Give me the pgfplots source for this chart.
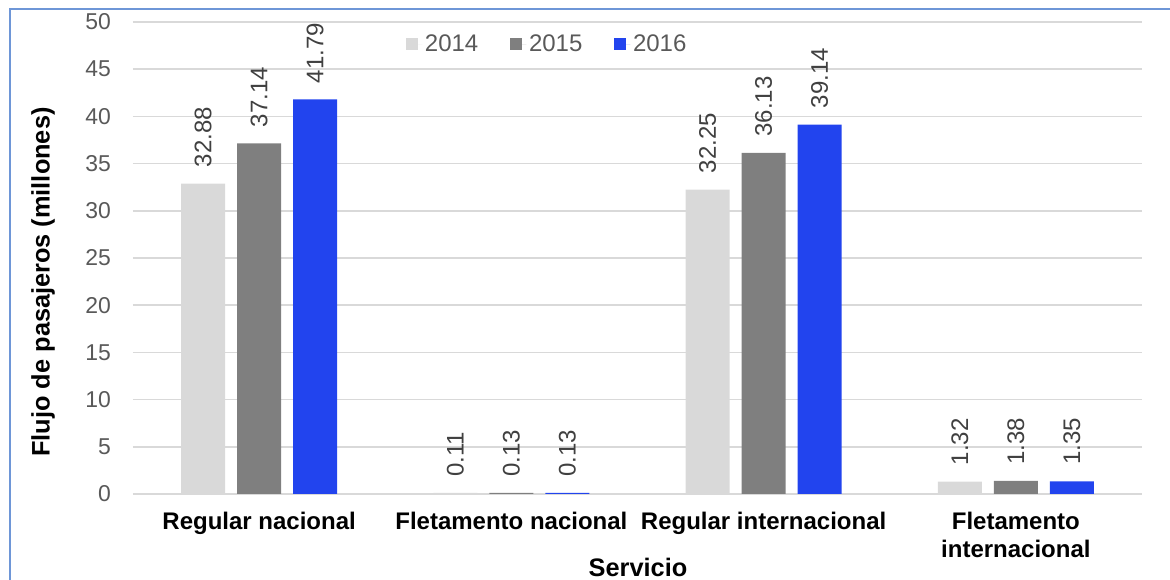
\documentclass[border=0pt]{standalone}
\usepackage{fontspec}
\setmainfont{Liberation Sans}
\usepackage{pgfplots}
\pgfplotsset{compat=1.18}
\definecolor{c14}{RGB}{217,217,217}
\definecolor{c15}{RGB}{127,127,127}
\definecolor{c16}{RGB}{34,68,238}
\definecolor{tickgray}{RGB}{89,89,89}
\definecolor{lblgray}{RGB}{64,64,64}
\definecolor{framebl}{RGB}{110,150,215}
\pgfplotsset{sq/.style={legend image code/.code={\fill[##1] (0pt,-4.5pt) rectangle (9pt,4.5pt); \path (0pt,0pt) -- (12pt,0pt);}}}

\begin{document}
\begin{tikzpicture}
\begin{axis}[
    at={(0pt,0pt)}, anchor=south west,
    scale only axis, width=756.75pt, height=354pt,
    ybar=9pt, bar width=33pt,
    xmin=-0.5, xmax=3.5, ymin=0, ymax=50,
    ytick={0,5,...,50},
    xtick={0,1,2,3},
    xticklabels={Regular nacional, Fletamento nacional, Regular internacional, {Fletamento\\internacional}},
    xticklabel style={font=\fontsize{18}{20.5}\selectfont\bfseries, align=center, text=black, yshift=-6pt},
    yticklabel style={font=\fontsize{17.2}{20}\selectfont, text=tickgray, xshift=-13pt},
    /pgf/number format/assume math mode=true,
    ymajorgrids, grid style={draw=c14, line width=1.2pt},
    axis line style={draw=none},
    major tick style={draw=none},
    nodes near coords,
    every node near coord/.append style={rotate=90, anchor=west, inner xsep=12pt,
        font=\fontsize{18}{20}\selectfont, text=lblgray,
        /pgf/number format/.cd, fixed, fixed zerofill, precision=2, assume math mode=true},
    legend style={at={(0.411,0.953)}, anchor=center, draw=none, fill=none,
        font=\fontsize{18}{20}\selectfont, text=tickgray,
        /tikz/every even column/.append style={column sep=22pt}},
    legend columns=3,
]
% 2014
\addplot[fill=c14, draw=none, sq] coordinates {(0,32.88) (1,0.11) (2,32.25) (3,1.32)};
\addlegendentry{2014}
% 2015
\addplot[fill=c15, draw=none, sq] coordinates {(0,37.14) (1,0.13) (2,36.13) (3,1.38)};
\addlegendentry{2015}
% 2016
\addplot[fill=c16, draw=none, sq] coordinates {(0,41.79) (1,0.13) (2,39.14) (3,1.35)};
\addlegendentry{2016}
\end{axis}
\node[rotate=90, font=\fontsize{19}{22}\selectfont\bfseries] at (-67.5pt,159pt) {Flujo de pasajeros (millones)};
\node[font=\fontsize{19}{22}\selectfont\bfseries] at (378.75pt,-54.75pt) {Servicio};
\draw[framebl, line width=1pt] (-92.25pt,-64.5pt) -- (-92.25pt,363.75pt) -- (777.75pt,363.75pt);
\pgfresetboundingbox
\path[use as bounding box] (-99.75pt,-64.5pt) rectangle (777.75pt,370.5pt);
\end{tikzpicture}
\end{document}
